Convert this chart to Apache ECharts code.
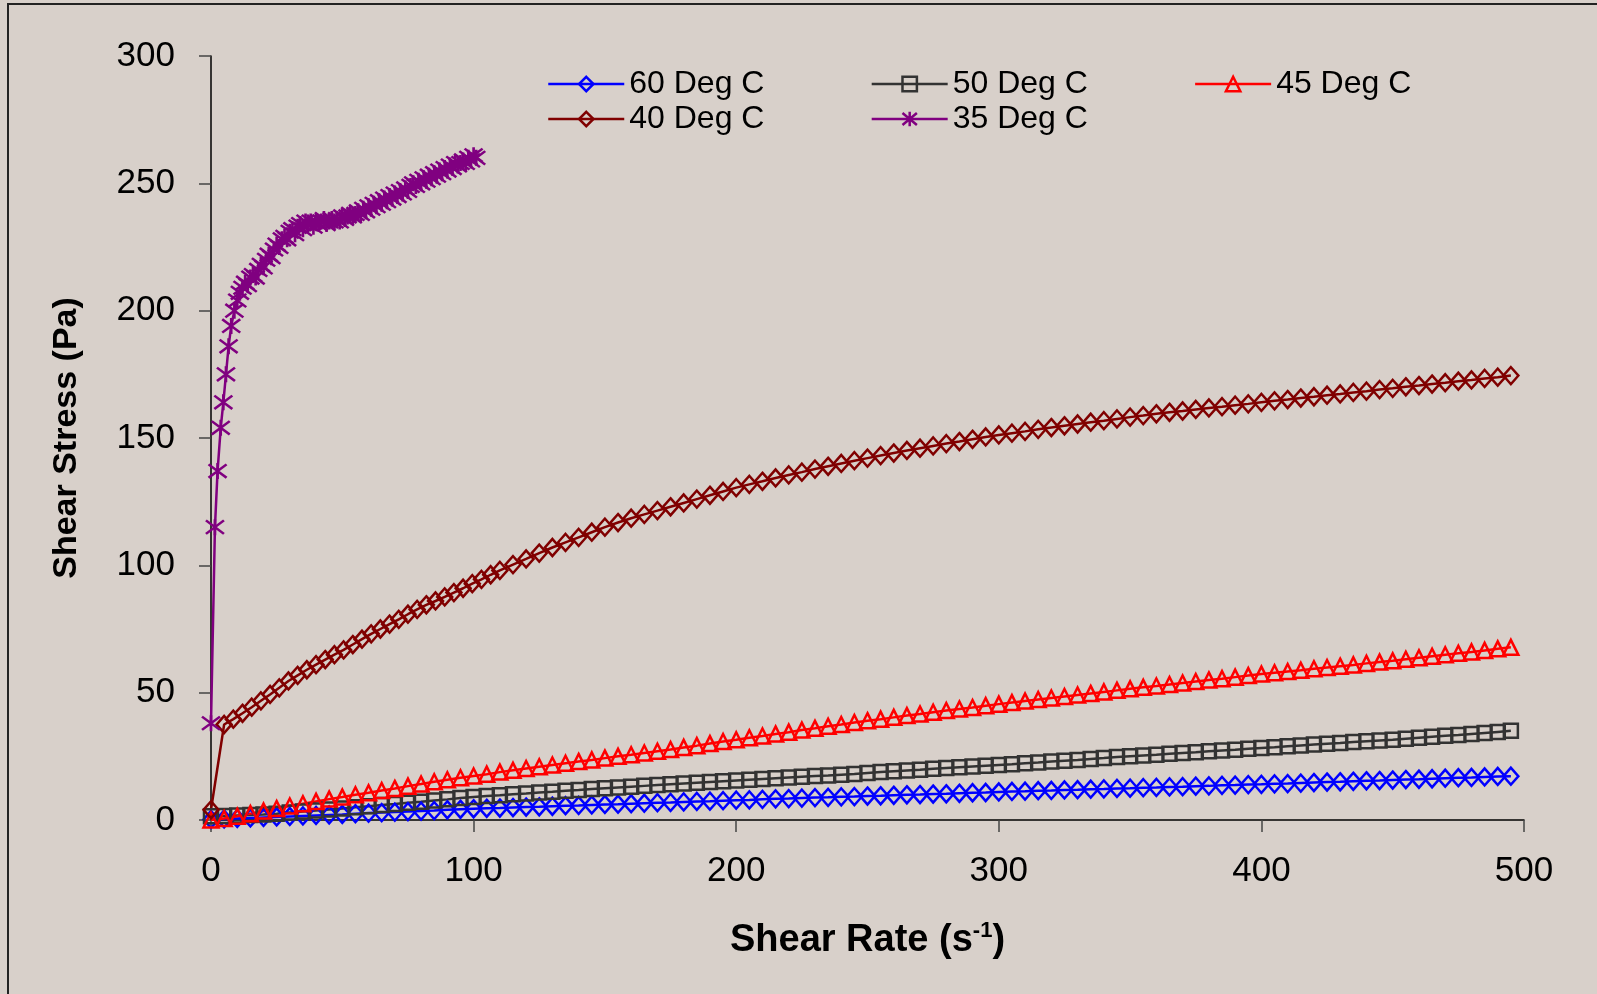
<!DOCTYPE html>
<html>
<head>
<meta charset="utf-8">
<script src="https://cdn.jsdelivr.net/npm/echarts@6/dist/echarts.min.js"></script>
<style>
  html, body { margin: 0; padding: 0; background: #D8D0CA; }
  #chart { width: 1597px; height: 994px; }
</style>
</head>
<body>
<div id="chart"></div>
<script>
// shear rate (s-1) used by the 60, 50 and 45 Deg C runs
const shearRate = [
  0, 5, 10, 15, 20, 25, 30, 35, 40, 45, 50, 55, 60, 65, 70, 75, 80, 85, 90, 95,
  100, 105, 110, 115, 120, 125, 130, 135, 140, 145, 150, 155, 160, 165, 170, 175, 180, 185, 190, 195,
  200, 205, 210, 215, 220, 225, 230, 235, 240, 245, 250, 255, 260, 265, 270, 275, 280, 285, 290, 295,
  300, 305, 310, 315, 320, 325, 330, 335, 340, 345, 350, 355, 360, 365, 370, 375, 380, 385, 390, 395,
  400, 405, 410, 415, 420, 425, 430, 435, 440, 445, 450, 455, 460, 465, 470, 475, 480, 485, 490, 495
];

const stress60 = [
  0.2, 0.4, 0.6, 0.8, 1.0, 1.2, 1.4, 1.6, 1.8, 2.0, 2.2, 2.5, 2.7, 2.9, 3.1, 3.3, 3.5, 3.7, 4.0, 4.2,
  4.4, 4.6, 4.7, 4.9, 5.1, 5.2, 5.4, 5.6, 5.7, 5.9, 6.1, 6.2, 6.4, 6.6, 6.8, 6.9, 7.1, 7.3, 7.4, 7.6,
  7.8, 7.9, 8.1, 8.3, 8.4, 8.6, 8.8, 8.9, 9.1, 9.2, 9.4, 9.5, 9.7, 9.9, 10.0, 10.2, 10.3, 10.5, 10.7, 10.8,
  11.0, 11.2, 11.3, 11.5, 11.6, 11.8, 11.9, 12.1, 12.2, 12.4, 12.5, 12.7, 12.8, 13.0, 13.1, 13.3, 13.4, 13.6, 13.7, 13.9,
  14.0, 14.2, 14.3, 14.5, 14.7, 14.9, 15.0, 15.2, 15.4, 15.5, 15.7, 15.9, 16.0, 16.2, 16.4, 16.6, 16.7, 16.9, 17.1, 17.2
];

const stress50 = [
  1.5, 1.6, 1.8, 2.0, 2.2, 2.5, 2.9, 3.3, 3.7, 4.1, 4.5, 5.0, 5.4, 5.9, 6.3, 6.8, 7.2, 7.7, 8.1, 8.6,
  9.0, 9.4, 9.7, 10.1, 10.4, 10.8, 11.1, 11.5, 11.8, 12.2, 12.5, 12.8, 13.1, 13.4, 13.7, 14.0, 14.3, 14.6, 14.9, 15.2,
  15.5, 15.8, 16.1, 16.4, 16.7, 17.0, 17.3, 17.5, 17.8, 18.1, 18.5, 18.8, 19.1, 19.4, 19.7, 20.1, 20.4, 20.7, 21.0, 21.3,
  21.6, 21.9, 22.3, 22.6, 23.0, 23.3, 23.6, 24.0, 24.3, 24.7, 25.0, 25.3, 25.6, 26.0, 26.3, 26.6, 27.0, 27.3, 27.6, 28.0,
  28.3, 28.6, 29.0, 29.3, 29.6, 29.9, 30.2, 30.6, 30.9, 31.2, 31.5, 31.9, 32.3, 32.7, 33.1, 33.4, 33.8, 34.2, 34.6, 35.0
];

const stress45 = [
  0.0, 0.6, 1.5, 2.5, 3.5, 4.5, 5.5, 6.4, 7.3, 8.2, 9.0, 9.9, 10.7, 11.6, 12.4, 13.3, 14.1, 15.0, 15.8, 16.6,
  17.3, 18.0, 18.8, 19.5, 20.2, 20.9, 21.6, 22.3, 23.0, 23.6, 24.3, 25.0, 25.6, 26.3, 27.0, 27.7, 28.5, 29.2, 30.0, 30.8,
  31.5, 32.3, 33.0, 33.8, 34.5, 35.3, 36.0, 36.8, 37.5, 38.3, 39.0, 39.6, 40.3, 41.0, 41.6, 42.3, 43.0, 43.6, 44.2, 44.9,
  45.5, 46.1, 46.7, 47.3, 47.9, 48.5, 49.1, 49.7, 50.3, 50.9, 51.5, 52.1, 52.6, 53.2, 53.8, 54.4, 55.0, 55.5, 56.1, 56.7,
  57.3, 57.8, 58.3, 58.8, 59.4, 59.9, 60.4, 60.9, 61.5, 62.0, 62.5, 63.1, 63.7, 64.3, 64.9, 65.5, 66.0, 66.6, 67.2, 67.8
];

const rate40 = [
  0, 5, 8.5, 12, 15.5, 19, 22.5, 26, 29.5, 33, 36.5, 40, 43.5, 47, 50.5, 54, 57.5, 61, 64.5, 68,
  71.5, 75, 78.5, 82, 85.5, 89, 92.5, 96, 99.5, 103, 106.5, 110,
  115, 120, 125, 130, 135, 140, 145, 150, 155, 160, 165, 170, 175, 180, 185, 190, 195,
  200, 205, 210, 215, 220, 225, 230, 235, 240, 245, 250, 255, 260, 265, 270, 275, 280, 285, 290, 295,
  300, 305, 310, 315, 320, 325, 330, 335, 340, 345, 350, 355, 360, 365, 370, 375, 380, 385, 390, 395,
  400, 405, 410, 415, 420, 425, 430, 435, 440, 445, 450, 455, 460, 465, 470, 475, 480, 485, 490, 495
];

const stress40 = [
  4.0, 37.5, 39.6, 41.9, 44.3, 46.8, 49.3, 51.9, 54.6, 56.8, 59.0, 61.0, 63.0, 64.9, 66.8, 68.9, 71.0, 73.1, 75.0, 76.9,
  78.8, 80.8, 82.7, 84.5, 86.0, 87.6, 89.3, 91.0, 92.8, 94.5, 96.3, 98.0,
  100.3, 102.5, 104.8, 107.0, 109.0, 111.0, 113.0, 115.0, 116.8, 118.5, 120.0, 121.5, 123.0, 124.5, 126.0, 127.5, 129.0,
  130.5, 131.8, 133.0, 134.3, 135.5, 136.6, 137.8, 138.9, 140.0, 141.1, 142.1, 143.1, 144.1, 145.1, 146.0, 146.9, 147.8, 148.6, 149.5, 150.4,
  151.2, 151.9, 152.6, 153.4, 154.1, 154.8, 155.5, 156.2, 156.8, 157.5, 158.2, 158.8, 159.5, 160.1, 160.6, 161.2, 161.8, 162.3, 162.9, 163.4,
  164.0, 164.6, 165.1, 165.7, 166.2, 166.8, 167.3, 167.9, 168.4, 169.0, 169.5, 170.1, 170.6, 171.2, 171.7, 172.3, 172.8, 173.4, 173.9, 174.5
];

const rate35 = [
  0, 1.5, 2.5, 3.7, 4.7, 5.7, 6.7, 7.7, 8.9,
  10, 11, 12, 13, 14, 15, 16, 17, 18, 19, 20, 21, 22, 23, 24, 25, 26, 27, 28, 29,
  30, 31, 32, 33, 34, 35, 36, 37, 38, 39, 40, 41, 42, 43, 44, 45, 46, 47, 48, 49,
  50, 51, 52, 53, 54, 55, 56, 57, 58, 59, 60, 61, 62, 63, 64, 65, 66, 67, 68, 69,
  70, 71, 72, 73, 74, 75, 76, 77, 78, 79, 80, 81, 82, 83, 84, 85, 86, 87, 88, 89,
  90, 91, 92, 93, 94, 95, 96, 97, 98, 99, 100, 101
];

const stress35 = [
  38, 115, 137, 154, 164, 175, 186, 194, 200,
  204, 207, 209, 211, 210, 213, 214, 213, 216, 218, 217, 220, 222, 221, 224, 226, 225, 228, 229, 228,
  231, 232, 230, 233, 234, 232, 235, 234, 235, 233, 235, 234, 235, 236, 234, 235, 236, 235, 236, 235,
  237, 236, 237, 238, 237, 238, 239, 238, 240, 239, 241, 240, 242, 241, 243, 242, 244, 243, 245, 244,
  246, 245, 247, 246, 248, 247, 249, 250, 249, 251, 250, 252, 251, 253, 252, 254, 253, 255, 254, 256,
  255, 257, 256, 258, 257, 258, 259, 258, 260, 259, 261, 260
];

const FONT = '"Liberation Sans", Arial, sans-serif';
const ASTERISK = 'path://M0,0L10,10M10,0L0,10M5,-1L5,11';

function pairs(xs, ys) {
    return xs.map((x, i) => [x, ys[i]]);
}

function makeSeries(name, color, symbol, size, xs, ys) {
    return {
        name: name,
        type: 'line',
        data: pairs(xs, ys),
        symbol: symbol,
        symbolSize: size,
        showAllSymbol: true,
        clip: false,
        animation: false,
        lineStyle: { color: color, width: 2.5 },
        itemStyle: { color: 'rgba(0,0,0,0)', borderColor: color, borderWidth: 2.5 },
        emphasis: { disabled: true }
    };
}

var dom = document.getElementById('chart');
var myChart = echarts.init(dom, null, { renderer: 'canvas' });

const legendBase = {
    orient: 'horizontal',
    left: 547,
    padding: 0,
    itemWidth: 76,
    itemHeight: 18,
    itemGap: 106,
    lineStyle: { width: 2.5 },
    itemStyle: { borderWidth: 2.5 },
    textStyle: { fontFamily: FONT, fontSize: 32, color: '#000' },
    selectedMode: false
};

const option = {
    backgroundColor: '#D8D0CA',
    animation: false,
    textStyle: { fontFamily: FONT },
    graphic: [
        {
            type: 'rect',
            shape: { x: 8, y: 4, width: 3000, height: 3000 },
            style: { fill: 'none', stroke: '#222', lineWidth: 2 },
            silent: true
        }
    ],
    legend: [
        Object.assign({}, legendBase, { top: 68, data: ['60 Deg C', '50 Deg C', '45 Deg C'] }),
        Object.assign({}, legendBase, { top: 103, data: ['40 Deg C', '35 Deg C'] })
    ],
    grid: {
        left: 211,
        right: 73,
        top: 56,
        bottom: 174,
        containLabel: false
    },
    xAxis: {
        type: 'value',
        min: 0,
        max: 500,
        interval: 100,
        name: 'Shear Rate (s{sup|-1})',
        nameLocation: 'middle',
        nameGap: 100,
        nameTextStyle: {
            fontFamily: FONT,
            fontSize: 38,
            fontWeight: 'bold',
            color: '#000',
            rich: {
                sup: { fontFamily: FONT, fontSize: 22, fontWeight: 'bold', color: '#000', verticalAlign: 'bottom', padding: [0, 0, 20, 0] }
            }
        },
        axisLine: { show: true, onZero: false, lineStyle: { color: '#000', width: 1.5 } },
        axisTick: { show: true, inside: false, length: 12, lineStyle: { color: '#444', width: 1.5 } },
        axisLabel: { fontFamily: FONT, fontSize: 35, color: '#000', margin: 34 },
        splitLine: { show: false }
    },
    yAxis: {
        type: 'value',
        min: 0,
        max: 300,
        interval: 50,
        name: 'Shear Stress (Pa)',
        nameLocation: 'middle',
        nameGap: 127,
        nameTextStyle: { fontFamily: FONT, fontSize: 34, fontWeight: 'bold', color: '#000' },
        axisLine: { show: true, onZero: false, lineStyle: { color: '#000', width: 1.5 } },
        axisTick: { show: true, inside: false, length: 12, lineStyle: { color: '#444', width: 1.5 } },
        axisLabel: { fontFamily: FONT, fontSize: 35, color: '#000', margin: 36 },
        splitLine: { show: false }
    },
    series: [
        makeSeries('60 Deg C', '#0000FF', 'diamond', [15, 17], shearRate, stress60),
        makeSeries('50 Deg C', '#333333', 'rect', 14, shearRate, stress50),
        makeSeries('45 Deg C', '#FF0000', 'triangle', 15, shearRate, stress45),
        makeSeries('40 Deg C', '#800000', 'diamond', [15, 17], rate40, stress40),
        makeSeries('35 Deg C', '#800080', ASTERISK, [18, 16], rate35, stress35)
    ]
};

myChart.setOption(option);
window.addEventListener('resize', myChart.resize);
</script>
</body>
</html>
